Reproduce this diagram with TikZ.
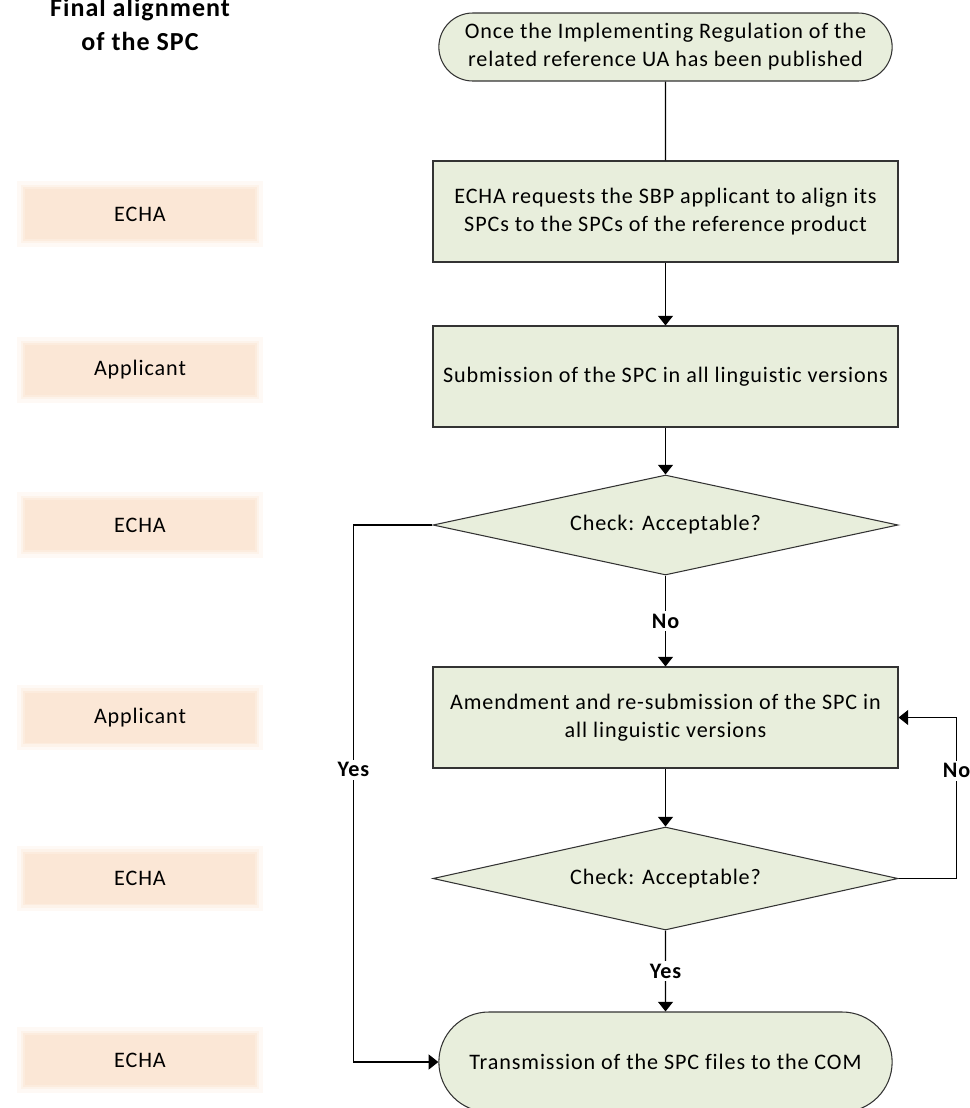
\documentclass[tikz,border=0pt]{standalone}
\usepackage{fontspec}
\setmainfont{Carlito}[LetterSpace=4, Ligatures=NoCommon]
\usetikzlibrary{positioning}
\usetikzlibrary{shapes.geometric, shapes.misc}
\usetikzlibrary{arrows.meta}
\definecolor{stepgreen}{RGB}{232,238,220}
\definecolor{lanepeach}{RGB}{251,231,214}
\tikzset{
	process/.style={draw=black!80, rectangle, line width=0.6pt, fill=stepgreen, minimum width=9.3cm, minimum height=2.02cm, align=center, font=\fontsize{12.6}{16}\selectfont},
	terminal/.style={process, rounded rectangle, minimum height=1.36cm},
	decision/.style={process, diamond, aspect=4.6, inner sep=0pt, minimum height=2cm},
	% actor names in the left column, soft edge
	lane/.style={rectangle, fill=lanepeach, minimum width=4.6cm, minimum height=1cm, font=\fontsize{12.6}{14}\selectfont,
		preaction={draw=lanepeach!25, line width=9pt},
		preaction={draw=lanepeach!50, line width=5pt},
		preaction={draw=lanepeach!80, line width=2pt}},
	answer/.style={fill=white, inner sep=1.5pt, font=\bfseries\fontsize{12.6}{14}\selectfont},
}

\begin{document}
\begin{tikzpicture}
	\useasboundingbox (0,0) rectangle (19.4,-22.16);
	
	\node (title) [align=center, font=\bfseries\fontsize{14.8}{19}\selectfont] at (2.8,-0.49) {Final alignment\\of the SPC};
	
	\node (term1) [terminal] at (13.31,-0.94) {Once the Implementing Regulation of the\\related reference UA has been published};
	\node (box1) [process, below of=term1, yshift=-2.29cm] {ECHA requests the SBP applicant to align its\\SPCs to the SPCs of the reference product};
	\node (box2) [process, below of=box1, yshift=-2.3cm] {Submission of the SPC in all linguistic versions};
	\node (dia1) [decision, below of=box2, yshift=-1.97cm] {Check: Acceptable?};
	\node (box3) [process, below of=dia1, yshift=-2.85cm] {Amendment and re-submission of the SPC in\\all linguistic versions};
	\node (dia2) [decision, below of=box3, yshift=-2.22cm, minimum height=2.06cm] {Check: Acceptable?};
	\node (term2) [terminal, below of=dia2, yshift=-2.67cm, minimum height=2cm] {Transmission of the SPC files to the COM};
	
	\node (lane1) [lane, left of=box1, xshift=-9.51cm, yshift=-0.05cm] {ECHA};
	\node (lane2) [lane, left of=box2, xshift=-9.51cm, yshift=0.13cm] {Applicant};
	\node (lane3) [lane, left of=dia1, xshift=-9.51cm] {ECHA};
	\node (lane4) [lane, left of=box3, xshift=-9.51cm] {Applicant};
	\node (lane5) [lane, left of=dia2, xshift=-9.51cm] {ECHA};
	\node (lane6) [lane, left of=term2, xshift=-9.51cm, yshift=0.04cm] {ECHA};
	
	\draw[line width=0.8pt] (term1) -- (box1);
	
	\begin{scope}[line width=0.8pt, black, ->, >={Triangle[width=8.5pt,length=5.5pt]}]
		\draw (box1) -- (box2);
		\draw (box2) -- (dia1);
		\draw (dia1) -- node[answer] {No} (box3);
		\draw (box3) -- (dia2);
		\draw (dia2) -- node[answer] {Yes} (term2);
		
		\draw (dia1.west) -- ++(-1.58,0) coordinate (yesbend) -- (yesbend |- term2.west) node[answer, pos=0.456] {Yes} -- (term2.west);
		\draw (dia2.east) -- ++(1.16,0) coordinate (nobend) -- (nobend |- box3.east) node[answer, pos=0.67] {No} -- (box3.east);
	\end{scope}
	
\end{tikzpicture}
\end{document}
